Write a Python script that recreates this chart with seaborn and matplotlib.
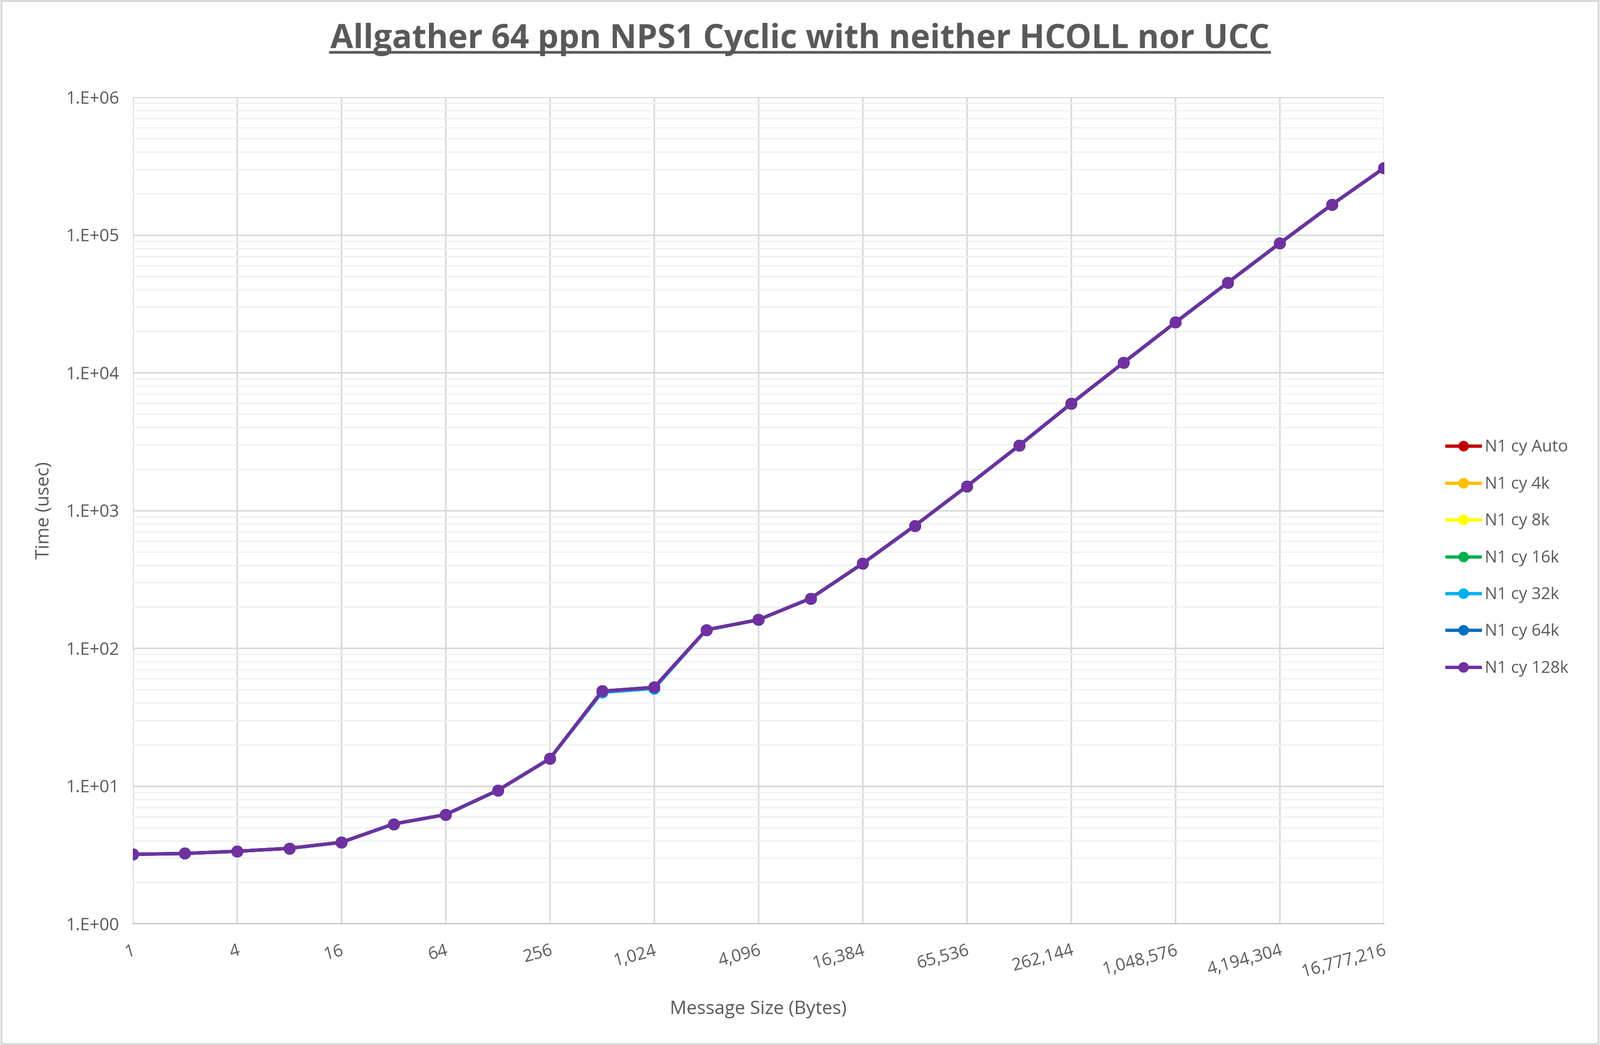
import numpy as np
import pandas as pd
import seaborn as sns
import matplotlib.pyplot as plt
from matplotlib.ticker import FixedLocator, FuncFormatter, LogLocator, NullFormatter

plt.rcParams['font.family'] = 'Open Sans'

sizes = [2 ** k for k in range(25)]
base_times = [3.19, 3.24, 3.36, 3.53, 3.9, 5.3, 6.2, 9.3, 15.8, 48.8, 52, 136,
              161, 230, 412, 775, 1500, 2960, 5970, 11800, 23200, 45000,
              87000, 166000, 306000]
series_names = ['N1 cy Auto', 'N1 cy 4k', 'N1 cy 8k', 'N1 cy 16k',
                'N1 cy 32k', 'N1 cy 64k', 'N1 cy 128k']
series_colors = ['#C00000', '#FFC000', '#FFFF00', '#00B050',
                 '#00B0F0', '#0070C0', '#7030A0']
# the series overlap almost completely; small visible offsets near 512-1024
offsets = {
    'N1 cy Auto': {},
    'N1 cy 4k': {},
    'N1 cy 8k': {},
    'N1 cy 16k': {},
    'N1 cy 32k': {9: 47.8, 10: 51.0},
    'N1 cy 64k': {},
    'N1 cy 128k': {},
}

rows = []
for name in series_names:
    for i, (s, t) in enumerate(zip(sizes, base_times)):
        rows.append({'size': s, 'time': offsets[name].get(i, t), 'series': name})
df = pd.DataFrame(rows)

fig = plt.figure(figsize=(16.805, 10.98), dpi=200)
ax = fig.add_axes([0.083, 0.116, 0.782, 0.791])
sns.lineplot(data=df, x='size', y='time', hue='series', hue_order=series_names,
             palette=series_colors, marker='o', markersize=9, markeredgewidth=0,
             linewidth=2.5, ax=ax, legend=False)

ax.set_xscale('log', base=2)
ax.set_yscale('log')
ax.set_xlim(1, 2 ** 24)
ax.set_ylim(1, 1e6)
ax.xaxis.set_major_locator(FixedLocator([4 ** k for k in range(13)]))
ax.xaxis.set_minor_locator(FixedLocator([2 ** (2 * k + 1) for k in range(12)]))
ax.xaxis.set_major_formatter(FuncFormatter(lambda v, p: f'{int(round(v)):,}'))
ax.xaxis.set_minor_formatter(NullFormatter())
ax.yaxis.set_major_locator(FixedLocator([10 ** k for k in range(7)]))
ax.yaxis.set_major_formatter(FuncFormatter(lambda v, p: f'1.E+{int(round(np.log10(v))):02d}'))
ax.yaxis.set_minor_locator(LogLocator(base=10, subs=np.arange(2, 10)))
ax.yaxis.set_minor_formatter(NullFormatter())
ax.grid(which='major', axis='both', color='#D9D9D9', linewidth=1.2)
ax.grid(which='minor', axis='y', color='#EFEFEF', linewidth=0.9)
ax.set_axisbelow(True)
for sp in ax.spines.values():
    sp.set_visible(False)
ax.spines['bottom'].set_visible(True)
ax.spines['bottom'].set_color('#BFBFBF')
ax.tick_params(which='both', length=0, colors='#595959', labelsize=13)
ax.tick_params(axis='x', pad=14)
ax.tick_params(axis='y', pad=10)
plt.setp(ax.get_xticklabels(), rotation=15, ha='right', rotation_mode='anchor')
ax.set_xlabel('Message Size (Bytes)', fontsize=14, color='#595959', labelpad=14)
ax.set_ylabel('Time (usec)', fontsize=14, color='#595959', labelpad=10)

fig.suptitle('Allgather 64 ppn NPS1 Cyclic with neither HCOLL nor UCC',
             x=0.5, y=0.978, fontsize=25, fontweight='bold', color='#595959')
# underline title
fig.canvas.draw()
t = fig._suptitle
bb = t.get_window_extent().transformed(fig.transFigure.inverted())
fig.add_artist(plt.Line2D([bb.x0, bb.x1], [bb.y0 + 0.004, bb.y0 + 0.004],
                          transform=fig.transFigure, color='#595959', linewidth=2))

handles = [plt.Line2D([], [], color=c, marker='o', markersize=8, linewidth=2.5,
                      markeredgewidth=0) for c in series_colors]
fig.legend(handles, series_names, loc='center left', bbox_to_anchor=(0.895, 0.466),
           frameon=False, fontsize=12.5, labelcolor='#595959', handlelength=2.0,
           labelspacing=1.25, handletextpad=0.3)
fig.add_artist(plt.Rectangle((0.001, 0.001), 0.998, 0.998, transform=fig.transFigure,
                             fill=False, edgecolor='#D9D9D9', linewidth=1.5))
fig.savefig('out.png', dpi=200)
